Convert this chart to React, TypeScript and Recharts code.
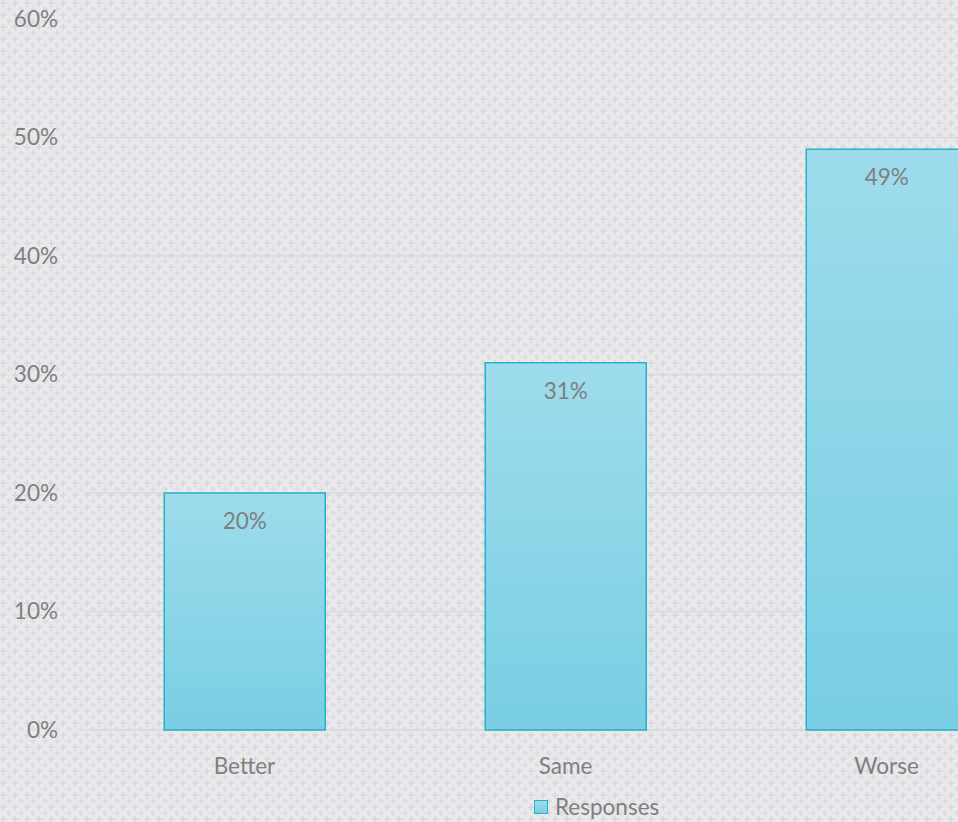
import React from 'react';
import { BarChart, Bar, XAxis, YAxis, CartesianGrid, Legend, LabelList } from 'recharts';

const categories = ['Better', 'Same', 'Worse'];
const responses = [20, 31, 49];
const yTicks = [0, 10, 20, 30, 40, 50, 60];

const chartData = categories.map((name, i) => ({ name, Responses: responses[i] }));

const FONT = 'Lato, "Open Sans", sans-serif';
const TEXT = '#7f7f7f';
const FS = 22.5;

// textured background (staggered plus signs)
const patternSvg =
  "<svg xmlns='http://www.w3.org/2000/svg' width='12' height='12'>" +
  "<rect width='12' height='12' fill='#e9e9ec'/>" +
  "<path d='M2.5 0h1.5v2.5h2.5v1.5H4v2.5H2.5V4H0V2.5h2.5z' fill='#d7d7dd'/>" +
  "<path d='M8.5 6h1.5v2.5h2v1.5h-2v2H8.5v-2H6V8.5h2.5z' fill='#dbdbe0'/>" +
  "</svg>";
const bgImage = `url("data:image/svg+xml,${encodeURIComponent(patternSvg)}")`;

function LegendContent() {
  return (
    <div style={{ display: 'flex', alignItems: 'center', fontFamily: FONT, fontSize: FS, color: TEXT, lineHeight: '25px', height: 25 }}>
      <span
        style={{
          display: 'inline-block',
          width: 12,
          height: 12,
          background: 'linear-gradient(#9fdcec, #7bcfe3)',
          border: '1.5px solid #21b3ca',
          marginRight: 7,
        }}
      />
      <span>Responses</span>
    </div>
  );
}

export default function App() {
  return (
    <div
      style={{
        position: 'fixed',
        left: 0,
        top: 0,
        width: 958,
        height: 822,
        overflow: 'hidden',
        backgroundColor: '#e9e9ec',
        backgroundImage: bgImage,
      }}
    >
      <BarChart
        width={1140}
        height={822}
        data={chartData}
        margin={{ top: 19, right: 93, left: 0, bottom: 37 }}
        barCategoryGap="25%"
      >
        <defs>
          <linearGradient id="barFill" x1="0" y1="0" x2="0" y2="1">
            <stop offset="0%" stopColor="#9edcec" />
            <stop offset="100%" stopColor="#79cee3" />
          </linearGradient>
        </defs>
        <CartesianGrid vertical={false} stroke="#d9d9d9" strokeWidth={1.5} />
        <XAxis
          dataKey="name"
          height={30}
          axisLine={false}
          tickLine={false}
          tickSize={0}
          tickMargin={28}
          tick={{ fill: TEXT, fontSize: FS, fontFamily: FONT }}
        />
        <YAxis
          width={84}
          domain={[0, 60]}
          ticks={yTicks}
          axisLine={false}
          tickLine={false}
          tickSize={0}
          tickMargin={26}
          tickFormatter={(v: number) => `${v}%`}
          tick={{ fill: TEXT, fontSize: FS, fontFamily: FONT }}
        />
        <Legend
          content={<LegendContent />}
          wrapperStyle={{ position: 'absolute', left: 534, top: 794, width: 'auto', height: 25 }}
        />
        <Bar
          dataKey="Responses"
          fill="url(#barFill)"
          stroke="#21b3ca"
          strokeWidth={1.5}
          isAnimationActive={false}
        >
          <LabelList
            dataKey="Responses"
            position="insideTop"
            offset={20}
            formatter={(v: number) => `${v}%`}
            style={{ fill: TEXT, fontSize: FS, fontFamily: FONT }}
          />
        </Bar>
      </BarChart>
    </div>
  );
}
